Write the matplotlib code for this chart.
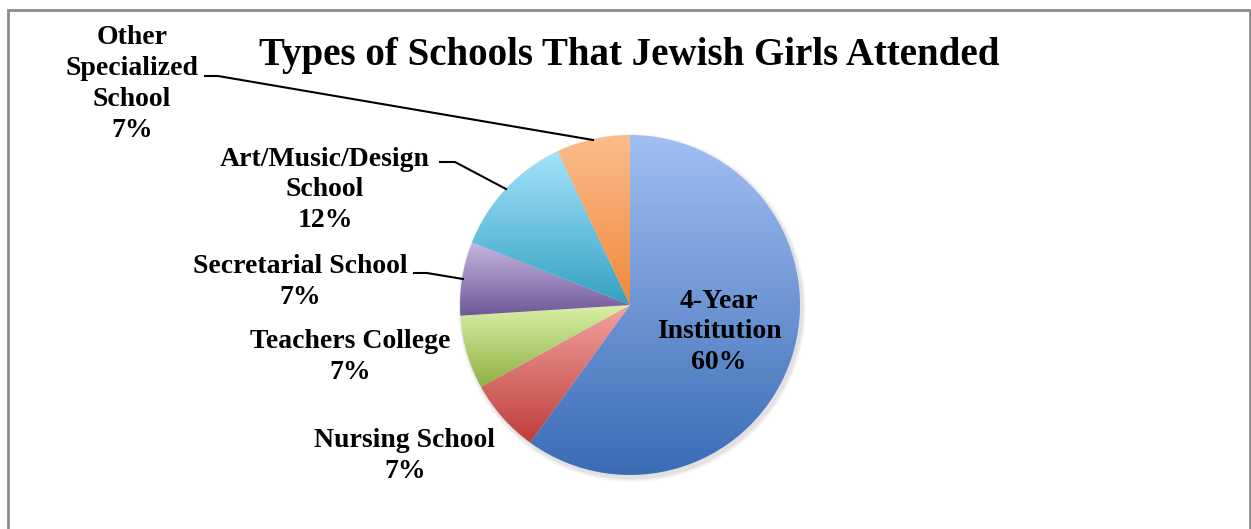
import numpy as np
import matplotlib.pyplot as plt
from matplotlib.colors import LinearSegmentedColormap
from matplotlib.patches import Rectangle, Circle

# data
labels = ["4-Year\nInstitution", "Nursing School", "Teachers College",
          "Secretarial School", "Art/Music/Design\nSchool",
          "Other\nSpecialized\nSchool"]
shares = [60, 7, 7, 7, 12, 7]
tops = ["#a2bff3", "#f2a3a1", "#d9f0a6", "#c6b6e0", "#a3e3fa", "#fcbd8c"]
bottoms = ["#3a6cb6", "#be3d39", "#8fb043", "#6f5797", "#35a1c2", "#f0893a"]
title = "Types of Schools That Jewish Girls Attended"

W, H = 1251, 529
fig = plt.figure(figsize=(W / 100, H / 100), dpi=100)
ax = fig.add_axes([0, 0, 1, 1])

cx, cy, r = 630, H - 305, 170
font = "Liberation Serif"

# soft shadow under the pie
for k, a in enumerate([0.05, 0.05, 0.06, 0.08]):
    ax.add_patch(Circle((cx + 2, cy - 3), r + 4 - k, color="#808080", alpha=a, lw=0, zorder=1))

wedges, _ = ax.pie(shares, startangle=90, counterclock=False, center=(cx, cy),
                   radius=r, frame=True, wedgeprops=dict(lw=0, zorder=2))
ax.set_xlim(0, W)
ax.set_ylim(0, H)
ax.set_aspect("equal")
ax.axis("off")

grad = np.linspace(0, 1, 256).reshape(-1, 1)
for w, c0, c1 in zip(wedges, tops, bottoms):
    w.set_facecolor("none")
    bb = w.get_path().get_extents(w.get_patch_transform())
    cmap = LinearSegmentedColormap.from_list("g", [c1, c0])
    im = ax.imshow(grad, cmap=cmap, origin="lower", aspect="auto",
                   extent=(bb.x0, bb.x1, bb.y0, bb.y1), zorder=3)
    im.set_clip_path(w)

txt = dict(fontfamily=font, fontweight="bold", fontsize=20, ha="center",
           va="center", linespacing=1.3, color="black", zorder=5)
pct = ["%d%%" % s for s in shares]
# label centres (pixel coords from top)
pos = [(719, 332), (405, 456), (350, 357), (300, 282), (325, 190), (132, 84)]
for lab, p, (x, y) in zip(labels, pct, pos):
    ax.text(x, H - y, lab + "\n" + p, **txt)

# leader lines
leaders = [
    [(205, 76), (218, 76), (593, 140)],
    [(440, 162), (455, 162), (506, 189)],
    [(414, 273), (427, 273), (463, 279)],
]
for pts in leaders:
    xs = [p[0] for p in pts]
    ys = [H - p[1] for p in pts]
    ax.plot(xs, ys, color="black", lw=1.5, zorder=4)

ax.text(629, H - 55, title, fontfamily=font, fontweight="bold", fontsize=28,
        ha="center", va="center", zorder=5)

ax.add_patch(Rectangle((8, -20), 1242, H - 10 + 20, fill=False,
                       ec="#8c8c8c", lw=2, zorder=6))

fig.savefig("out.png", dpi=100)
